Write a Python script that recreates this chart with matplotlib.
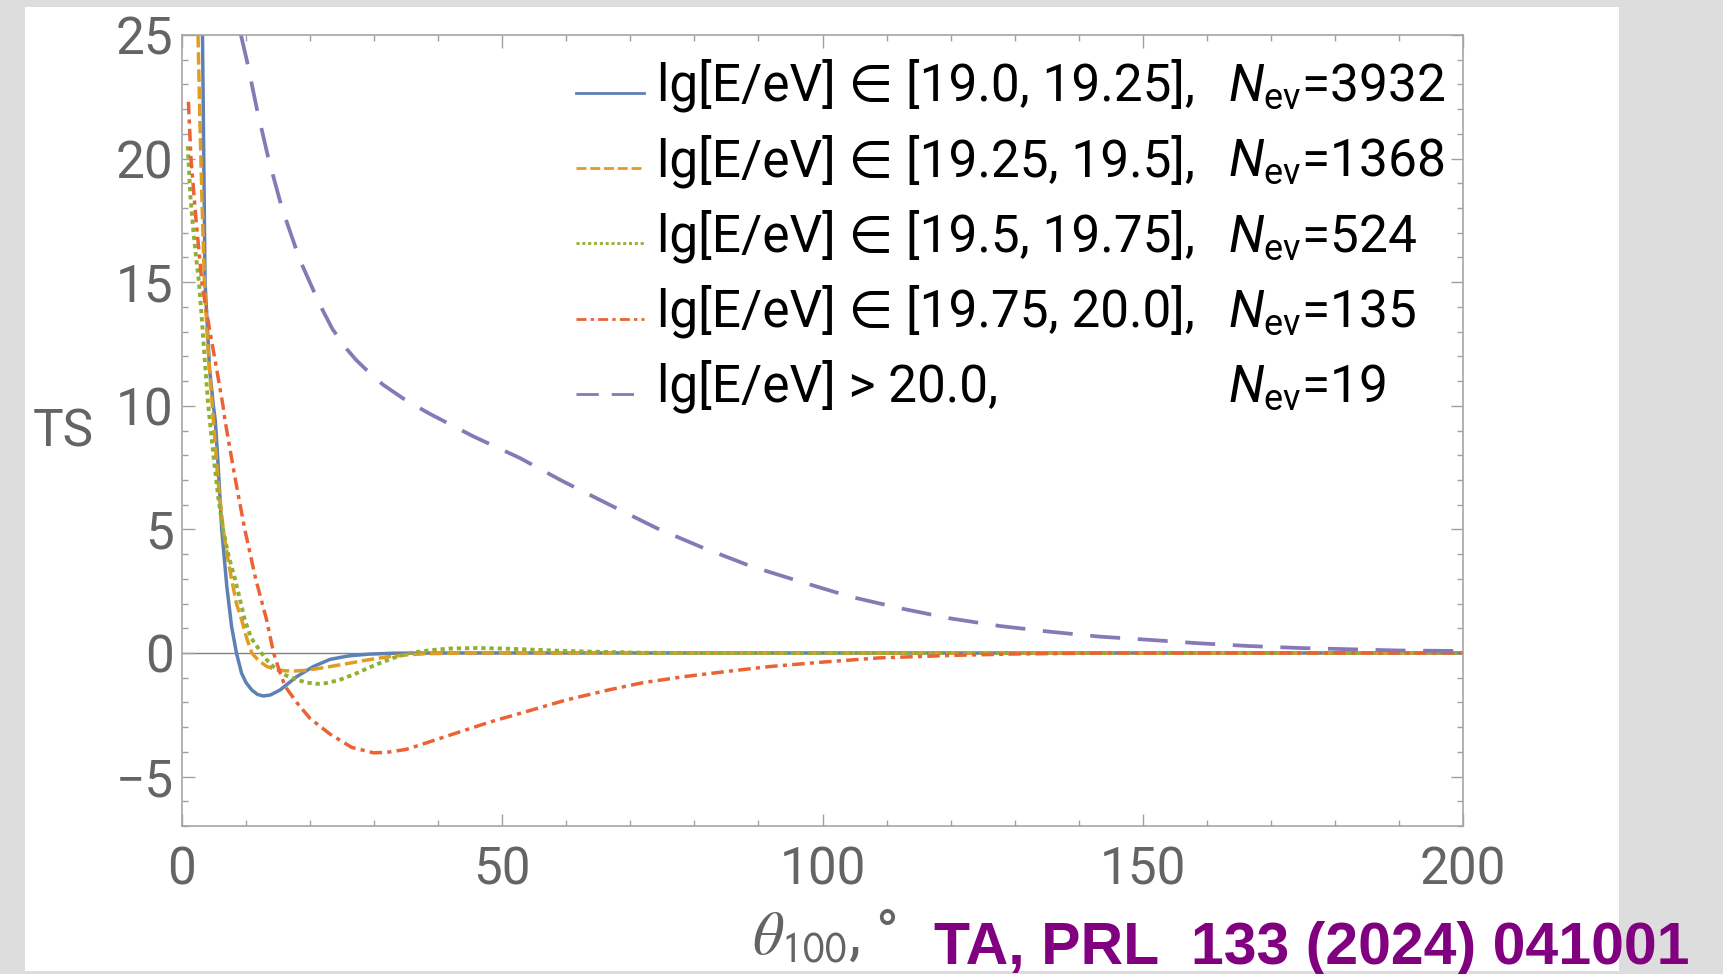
import matplotlib
matplotlib.use("Agg")
import matplotlib.pyplot as plt
from matplotlib.patches import Rectangle
from matplotlib.lines import Line2D
from matplotlib.ticker import MultipleLocator

# values (theta in degrees, TS)
theta_1 = [3.2, 3.4, 3.6, 3.9, 4.3, 4.9, 5.2, 5.6, 6.2, 7.0, 7.75, 8.5, 9.3, 10.0, 10.9, 11.8,
           12.7, 13.8, 15.3, 16.5, 17.9, 20.5, 23.1, 26, 29, 33, 40, 60, 100, 150, 200]
ts_1 = [25, 20, 15, 13.5, 11.5, 10, 9.4, 7.8, 5.0, 2.68, 1.06, 0, -0.82, -1.2, -1.5, -1.68,
        -1.74, -1.7, -1.5, -1.25, -0.96, -0.55, -0.26, -0.12, -0.05, -0.01, 0, 0, 0, 0, 0]

theta_2 = [2.5, 2.8, 3.1, 3.5, 4.0, 4.5, 4.9, 5.6, 6.45, 7.1, 7.75, 8.5, 9.3, 10.1, 10.9, 12.0,
           13.2, 14.5, 16, 17.5, 19, 21, 23.1, 26, 29, 32, 35, 38, 45, 60, 100, 150, 200]
ts_2 = [25, 21.5, 18.5, 15, 12.5, 10.8, 9.43, 7.0, 5.0, 3.9, 2.97, 2.0, 1.35, 0.6, 0, -0.32,
        -0.54, -0.66, -0.72, -0.73, -0.71, -0.64, -0.55, -0.42, -0.28, -0.16, -0.08, -0.03, 0, 0, 0, 0, 0]

theta_3 = [0.9, 1.3, 1.8, 2.2, 2.65, 3.1, 3.6, 4.1, 4.9, 5.7, 6.4, 7.3, 8.3, 9.8, 10.8, 11.7,
           12.4, 13.3, 14.2, 16, 17.9, 19.5, 21, 22.5, 24.5, 27, 30, 33, 35.6, 39, 42, 46,
           50, 55, 60, 66, 72, 80, 100, 150, 200]
ts_3 = [20.5, 18.5, 17, 16, 15, 13.5, 11.7, 10, 8.0, 6.2, 5.0, 3.9, 2.97, 1.35, 0.6, 0.27,
        0, -0.3, -0.54, -0.88, -1.08, -1.2, -1.25, -1.22, -1.1, -0.85, -0.5, -0.2, 0, 0.12, 0.18, 0.2,
        0.18, 0.13, 0.08, 0.04, 0.01, 0, 0, 0, 0]

theta_4 = [1.0, 1.4, 2.2, 3.1, 3.7, 4.4, 5.4, 6.4, 6.7, 8.2, 9.8, 11.5, 13.2, 14.3, 15.2, 16.1, 17.9,
           20, 23.1, 26.5, 29.9, 32, 35, 38, 42.8, 48, 54.7, 60, 66.7, 72, 78.6,
           85, 91.7, 100, 108.8, 120, 130, 145, 200]
ts_4 = [22.3, 20, 17.5, 15, 14, 12.95, 11.5, 10, 9.43, 7.2, 5.0, 3.0, 1.35, 0, -0.72, -1.35, -2.0,
        -2.65, -3.28, -3.82, -4.04, -4.02, -3.9, -3.65, -3.24, -2.8, -2.3, -1.9, -1.49, -1.2, -0.95,
        -0.75, -0.55, -0.37, -0.2, -0.1, -0.04, 0, 0]

theta_5 = [9.2, 10.1, 11.7, 13.5, 15.6, 18.4, 21.5, 23.5, 25.7, 27.2, 28.8, 30, 31.4, 34.5, 38.5,
           45.5, 52.8, 59.5, 66.8, 74.1, 81.2, 88.7, 96.5, 104.3, 112.1, 119.9, 127.7, 135.5,
           143.3, 151.1, 158.9, 166.7, 174.6, 182.4, 190, 200]
ts_5 = [25, 24, 22, 20, 18, 15.9, 14.1, 13.1, 12.3, 11.85, 11.45, 11.15, 10.85, 10.3, 9.7,
        8.76, 7.88, 6.94, 5.99, 5.05, 4.27, 3.52, 2.89, 2.28, 1.81, 1.40, 1.09, 0.86,
        0.66, 0.53, 0.39, 0.28, 0.2, 0.15, 0.1, 0.08]

bins = ["lg[E/eV] \u2208 [19.0, 19.25],", "lg[E/eV] \u2208 [19.25, 19.5],",
        "lg[E/eV] \u2208 [19.5, 19.75],", "lg[E/eV] \u2208 [19.75, 20.0],",
        "lg[E/eV] > 20.0,"]
n_events = [3932, 1368, 524, 135, 19]

colors = ["#5E81B5", "#E19C24", "#8FB032", "#EB6235", "#8778B6"]
styles = ["-", (0, (3.6, 1.35)), (0, (1.1, 1.0)), (0, (3.6, 1.5, 1.2, 1.5)), (0, (8.0, 4.7))]
widths = [2.5, 2.5, 2.8, 2.5, 2.7]

plt.rcParams["font.family"] = ["Roboto", "DejaVu Sans"]
plt.rcParams["mathtext.fontset"] = "custom"
plt.rcParams["mathtext.rm"] = "Roboto"
plt.rcParams["mathtext.it"] = "Roboto:italic"

W, H = 1723, 974
fig = plt.figure(figsize=(W / 100, H / 100), dpi=100, facecolor="#dddddd")
fig.patches.append(Rectangle((25 / W, 1 - 971 / H), (1619 - 25) / W, (971 - 7) / H,
                             transform=fig.transFigure, facecolor="white",
                             edgecolor="none", zorder=-10))

ax = fig.add_axes([182 / W, 1 - 826 / H, (1463 - 182) / W, (826 - 35) / H])
ax.axhline(0, color="#808080", lw=1.0, zorder=1)

series = [(theta_1, ts_1), (theta_2, ts_2), (theta_3, ts_3), (theta_4, ts_4), (theta_5, ts_5)]
for (x, y), c, ls, lw in zip(series, colors, styles, widths):
    ax.plot(x, y, color=c, linestyle=ls, lw=lw, zorder=2)

ax.set_xlim(0, 200)
ax.set_ylim(-7, 25)
ax.xaxis.set_major_locator(MultipleLocator(50))
ax.xaxis.set_minor_locator(MultipleLocator(10))
ax.yaxis.set_major_locator(MultipleLocator(5))
ax.yaxis.set_minor_locator(MultipleLocator(1))
ax.tick_params(which="both", direction="in", top=True, right=True,
               color="#a0a0a0", labelcolor="#646464", labelsize=37, width=1)
ax.tick_params(which="major", length=9)
ax.tick_params(which="minor", length=4.5)
ax.tick_params(axis="x", pad=14)
ax.tick_params(axis="y", pad=6)
for s in ax.spines.values():
    s.set_color("#a6a6a6")
    s.set_linewidth(1.2)

# legend drawn by hand so the N_ev column lines up
for i, (lab, n, c, ls) in enumerate(zip(bins, n_events, colors, styles)):
    yb = 101 + 75.2 * i
    fig.add_artist(Line2D([576 / W, 644 / W], [1 - (yb - 8) / H] * 2,
                          transform=fig.transFigure, color=c, lw=2.0, linestyle=ls))
    fig.text(657 / W, 1 - yb / H, lab, fontsize=37, va="baseline", color="black")
    fig.text(1228 / W, 1 - yb / H, r"$N_{\mathrm{ev}}$=" + str(n), fontsize=37,
             va="baseline", color="black")

fig.text(32.7 / W, 1 - 446.7 / H, "TS", fontsize=37, color="#646464", va="baseline")
fig.text(752 / W, 1 - 954 / H, r"$\theta_{\mathsf{100}}$, °", fontsize=44,
         color="#646464", va="baseline", math_fontfamily="stix")
fig.text(934 / W, 1 - 964 / H, "TA, PRL  133 (2024) 041001", fontsize=42.5,
         fontweight="bold", color="#800080", family="Liberation Sans", va="baseline")

fig.savefig("out.png", dpi=100, facecolor=fig.get_facecolor())
